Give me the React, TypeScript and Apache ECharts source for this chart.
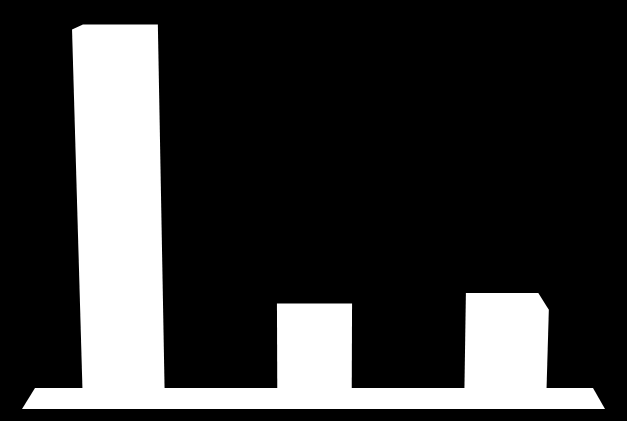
import { useEffect, useRef } from "react";
import * as echarts from "echarts";

// three bars, no labels are shown in the picture
const CATEGORIES = ["A", "B", "C"];
const VALUES = [98.5, 18.5, 21.5];
const Y_MAX = 100;

const BAR_RATIO = 0.39; // bar width as share of a band, at the middle
const BAR_SPREAD = 0.04; // bars get a bit wider away from the middle
const LEAN = 1.25e-4; // how far the vertical edges lean away from the middle
const BEVEL = 0.045; // how far the back edge of the top face pulls inward

function renderBar(params: any, api: any) {
  const idx = api.value(0);
  const [xc, yT] = api.coord([idx, api.value(1)]);
  const y0 = api.coord([idx, 0])[1];
  const band = api.size([1, 0])[0];
  const cs = params.coordSys;
  const vx = cs.x + cs.width / 2;
  const w = band * (BAR_RATIO + (BAR_SPREAD * Math.abs(xc - vx)) / band);
  const lean = (x: number) => x + (x - vx) * LEAN * (y0 - yT);

  const xl = xc - w / 2;
  const xr = xc + w / 2;
  const xlT = lean(xl);
  const xrT = lean(xr);
  const dy = 5 + 0.042 * (yT - cs.y - 5);

  let points: number[][];
  if (xc < vx - 1) {
    const dxB = (vx - xlT) * BEVEL;
    points = [
      [xl, y0],
      [xlT, yT],
      [xlT + dxB, yT - dy],
      [xrT, yT - dy],
      [xr, y0],
    ];
  } else if (xc > vx + 1) {
    const dxB = (xrT - vx) * BEVEL;
    points = [
      [xl, y0],
      [xlT, yT - dy],
      [xrT - dxB, yT - dy],
      [xrT, yT],
      [xr, y0],
    ];
  } else {
    points = [
      [xl, y0],
      [xlT, yT - dy],
      [xrT, yT - dy],
      [xr, y0],
    ];
  }

  return {
    type: "polygon",
    shape: { points },
    style: { fill: "#ffffff" },
  };
}

function renderFloor(params: any, api: any) {
  const cs = params.coordSys;
  const yTop = api.coord([0, 0])[1];
  const yBot = yTop + 21;

  return {
    type: "polygon",
    shape: {
      points: [
        [cs.x + 7, yTop],
        [cs.x + cs.width - 8, yTop],
        [cs.x + cs.width + 4, yBot],
        [cs.x - 6, yBot],
      ],
    },
    style: { fill: "#ffffff" },
  };
}

export default function App() {
  const chartRef = useRef<HTMLDivElement | null>(null);

  useEffect(() => {
    const el = chartRef.current;

    if (!el) {
      return;
    }

    document.body.style.margin = "0";
    document.body.style.background = "#000000";

    const chart = echarts.init(el, undefined, { renderer: "svg" });

    chart.setOption({
      animation: false,
      backgroundColor: "#000000",
      grid: { left: 28, right: 26, top: 24, bottom: 33 },
      xAxis: {
        type: "category",
        data: CATEGORIES,
        show: false,
      },
      yAxis: {
        type: "value",
        min: 0,
        max: Y_MAX,
        show: false,
        splitLine: { show: false },
      },
      series: [
        {
          type: "custom",
          name: "floor",
          renderItem: renderFloor,
          data: [[0, 0]],
          encode: { x: 0, y: 1 },
          z: 1,
          silent: true,
        },
        {
          type: "custom",
          name: "bars",
          renderItem: renderBar,
          data: VALUES.map((v, i) => [i, v]),
          encode: { x: 0, y: 1 },
          z: 2,
        },
      ],
    });

    return () => {
      chart.dispose();
    };
  }, []);

  return <div ref={chartRef} style={{ width: 627, height: 421 }} />;
}
